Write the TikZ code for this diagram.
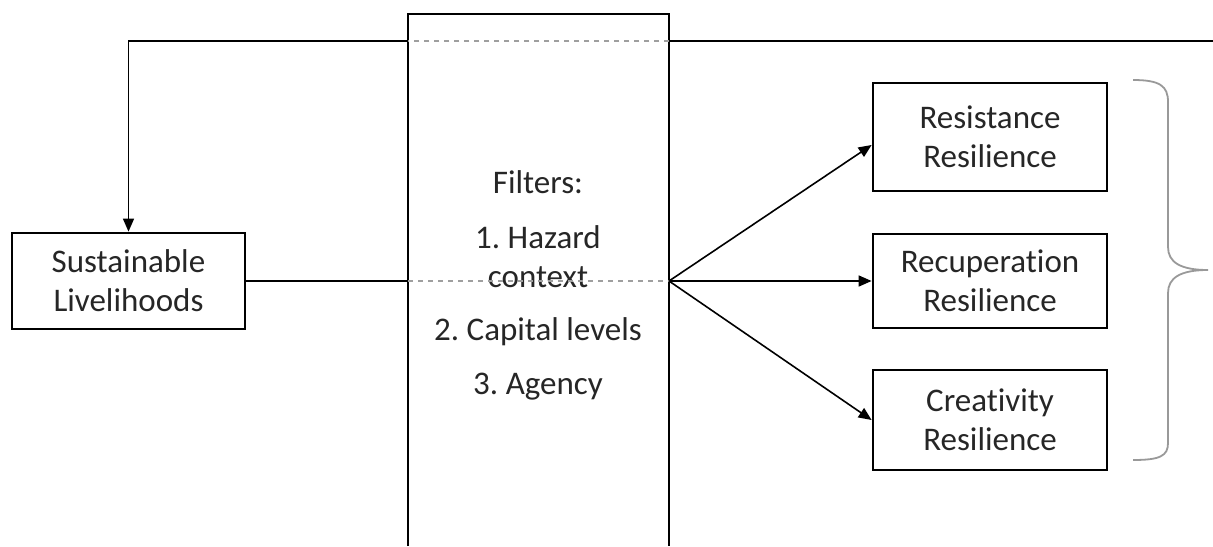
\documentclass[tikz,border=0pt]{standalone}
\usepackage{fontspec}
\setmainfont{Carlito}[Ligatures=NoCommon]
\usetikzlibrary{arrows.meta}
\tikzset{
  boxpen/.style={draw, line width=1.4pt, align=center, inner sep=0pt},
  linkpen/.style={line width=0.8pt},
  dashpen/.style={line width=0.8pt, gray!75, dash pattern=on 2.5pt off 2.5pt},
  arrowpen/.style={line width=0.8pt, -{Triangle[length=6.5pt, width=5.5pt]}},
  bracepen/.style={line width=0.9pt, gray!80},
  filtertext/.style={align=center, inner sep=0pt}
}
\begin{document}
\frenchspacing
\begin{tikzpicture}[x=0.5pt, y=-0.5pt, text=black!85]
        \useasboundingbox (0,0) rectangle (1213,546);
        {\fontsize{16.5}{19.5}\selectfont

        % Drawing the filter box (open at the bottom)
        \coordinate (fBL) at (408,546);
        \coordinate (fTL) at (408,14);
        \coordinate (fTR) at (669,14);
        \coordinate (fBR) at (669,546);
        \draw [line width=1.4pt] (fBL) -- (fTL) -- (fTR) -- (fBR);%

        % Filter texts
        \node [filtertext] (filters) at (538,182) {Filters:};%
        \node [filtertext] (hazard) at (538,257) {1. Hazard\\context};%
        \node [filtertext] (capital) at (538,332) {2. Capital levels};%
        \node [filtertext] (agency) at (538,387) {3. Agency};%

        % Marking the livelihood box
        \node [boxpen, minimum width=116.5pt, minimum height=48pt] (sustain) at (128.5,281) {Sustainable\\Livelihoods};%

        % Marking the three resilience boxes
        \node [boxpen, minimum width=117pt, minimum height=54pt] (resist) at (990,137) {Resistance\\Resilience};%
        \node [boxpen, minimum width=117pt, minimum height=47pt] (recup) at (990,281) {Recuperation\\Resilience};%
        \node [boxpen, minimum width=117pt, minimum height=50pt] (creat) at (990,420) {Creativity\\Resilience};%

        % Drawing the feedback line on top
        \coordinate (topR) at (1213,41);
        \coordinate (topF2) at (669,41);
        \coordinate (topF1) at (408,41);
        \coordinate (topL) at (128.5,41);
        \draw [linkpen] (topR) -- (topF2);%
        \draw [dashpen] (topF2) -- (topF1);%
        \draw [arrowpen] (topF1) -- (topL) -- (sustain.north);%

        % Drawing the line through the filters
        \coordinate (midF1) at (408,281);
        \coordinate (fan) at (669,281);
        \draw [linkpen] (sustain.east) -- (midF1);%
        \draw [dashpen] (midF1) -- (fan);%

        % Drawing the fan of arrows
        \draw [arrowpen] (fan) -- ([yshift=-4pt]resist.west);%
        \draw [arrowpen] (fan) -- (recup.west);%
        \draw [arrowpen] (fan) -- (creat.west);%

        % Drawing the brace
        \draw [bracepen] (1133,80) .. controls (1160,80) and (1168,86) .. (1168,102)
          -- (1168,247) .. controls (1168,262) and (1180,270) .. (1208,270)
          .. controls (1180,270) and (1168,278) .. (1168,293)
          -- (1168,443) .. controls (1168,456) and (1160,460) .. (1133,460);%
        }
    \end{tikzpicture}
\end{document}
